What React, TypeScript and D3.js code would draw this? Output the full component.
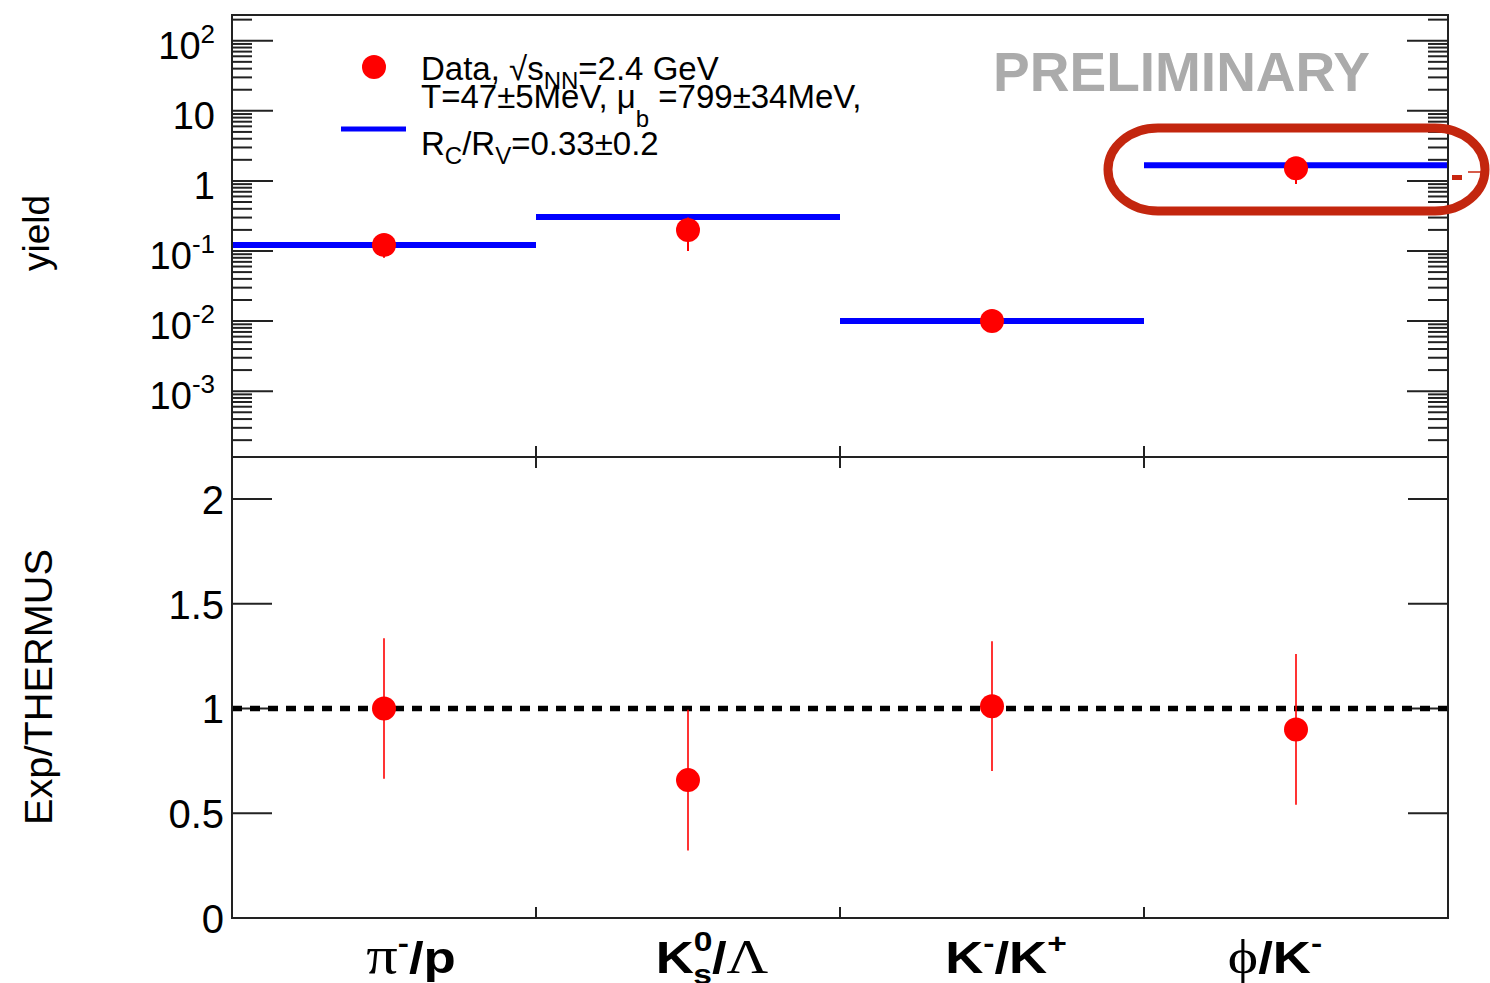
import React from "react";
import * as d3 from "d3";

// Particle ratios compared with the THERMUS statistical-model fit
const categories = ["pi-/p", "K0s/Lambda", "K-/K+", "phi/K-"];
const thermusYield = [0.122, 0.306, 0.01, 1.67];
const dataYield = [0.122, 0.2, 0.01, 1.52];
const dataYieldErr = [0.042, 0.1, 0.002, 0.62];
const ratio = [1.0, 0.658, 1.011, 0.9];
const ratioErr = [0.335, 0.336, 0.31, 0.36];

const yieldDecades = [-4, -3, -2, -1, 0, 1, 2];
const ratioTicks = [0, 0.5, 1, 1.5, 2];

const W = 1490;
const H = 983;
const frame = { left: 232, right: 1448, top: 15, mid: 457, bottom: 918 };

const SANS = "'Liberation Sans', Arial, Helvetica, sans-serif";
const SERIF = "'Liberation Serif', 'DejaVu Serif', serif";
const RED = "#ff0000";
const BLUE = "#0000ff";
const AXIS = "#222";

const x = d3
  .scaleBand<string>()
  .domain(categories)
  .range([frame.left, frame.right])
  .paddingInner(0)
  .paddingOuter(0);

const yTop = d3.scaleLog().domain([1.15e-4, 233]).range([frame.mid, frame.top]);
const yBot = d3.scaleLinear().domain([0, 2.2]).range([frame.bottom, frame.mid]);

// label offsets from band centre for the x labels
const labelShift = [27, 24, 14, -21];

function decadeLabel(e: number) {
  if (e === 0) return [{ t: "1", sup: false }];
  if (e === 1) return [{ t: "10", sup: false }];
  return [
    { t: "10", sup: false },
    { t: String(e), sup: true },
  ];
}

function CategoryLabel({ i }: { i: number }) {
  const c = categories[i];
  const bw = x.bandwidth();
  const cx = (x(c) as number) + bw / 2 + labelShift[i];
  const base = 973;
  const big = 44;
  const small = 28;
  const bold = { fontFamily: SANS, fontWeight: 700 as const };
  let content: React.ReactNode = null;
  if (i === 0) {
    content = (
      <>
        <tspan fontFamily={SERIF} fontSize={52}>π</tspan>
        <tspan {...bold} fontSize={small} dy={-20}>-</tspan>
        <tspan {...bold} fontSize={big} dy={20}>/p</tspan>
      </>
    );
  } else if (i === 1) {
    content = (
      <>
        <tspan {...bold} fontSize={big}>K</tspan>
        <tspan {...bold} fontSize={small} dy={-22}>0</tspan>
        <tspan {...bold} fontSize={small} dx={-16} dy={33}>s</tspan>
        <tspan {...bold} fontSize={big} dy={-11}>/</tspan>
        <tspan fontFamily={SERIF} fontSize={48}>Λ</tspan>
      </>
    );
  } else if (i === 2) {
    content = (
      <>
        <tspan {...bold} fontSize={big}>K</tspan>
        <tspan {...bold} fontSize={small} dy={-20}>-</tspan>
        <tspan {...bold} fontSize={big} dy={20}>/K</tspan>
        <tspan {...bold} fontSize={small} dy={-20}>+</tspan>
      </>
    );
  } else {
    content = (
      <>
        <tspan fontFamily={SERIF} fontSize={48}>ϕ</tspan>
        <tspan {...bold} fontSize={big}>/K</tspan>
        <tspan {...bold} fontSize={small} dy={-20}>-</tspan>
      </>
    );
  }
  return (
    <g transform={`translate(${cx},${base}) scale(1.2,1)`}>
      <text textAnchor="middle" fill="#000">
        {content}
      </text>
    </g>
  );
}

export default function App() {
  const bw = x.bandwidth();
  const centers = categories.map((c) => (x(c) as number) + bw / 2);
  const edges = categories.slice(1).map((c) => x(c) as number);

  // log ticks: majors at decades, minors at 2..9
  const [lo, hi] = yTop.domain();
  const majors: number[] = [];
  const minors: number[] = [];
  yieldDecades.forEach((e) => {
    const d = Math.pow(10, e);
    if (d >= lo && d <= hi) majors.push(d);
    for (let k = 2; k <= 9; k++) {
      const v = k * d;
      if (v >= lo && v <= hi) minors.push(v);
    }
  });

  return (
    <svg
      width={W}
      height={H}
      style={{ position: "absolute", left: 0, top: 0, display: "block", background: "#fff" }}
    >
      <rect x={0} y={0} width={W} height={H} fill="#fff" />

      {/* ---------- top panel: yields ---------- */}
      {majors.map((v) => (
        <g key={"M" + v}>
          <line x1={frame.left} x2={frame.left + 41} y1={yTop(v)} y2={yTop(v)} stroke={AXIS} strokeWidth={2} />
          <line x1={frame.right} x2={frame.right - 41} y1={yTop(v)} y2={yTop(v)} stroke={AXIS} strokeWidth={2} />
        </g>
      ))}
      {minors.map((v) => (
        <g key={"m" + v}>
          <line x1={frame.left} x2={frame.left + 20} y1={yTop(v)} y2={yTop(v)} stroke={AXIS} strokeWidth={2} />
          <line x1={frame.right} x2={frame.right - 20} y1={yTop(v)} y2={yTop(v)} stroke={AXIS} strokeWidth={2} />
        </g>
      ))}
      {yieldDecades
        .filter((e) => Math.pow(10, e) >= lo && Math.pow(10, e) <= hi)
        .map((e) => (
          <text
            key={"l" + e}
            x={215}
            y={yTop(Math.pow(10, e)) + 18}
            textAnchor="end"
            fontFamily={SANS}
            fontSize={38}
            fill="#000"
          >
            {decadeLabel(e).map((p, j) =>
              p.sup ? (
                <tspan key={j} fontSize={26} dy={-16}>
                  {p.t}
                </tspan>
              ) : (
                <tspan key={j}>{p.t}</tspan>
              )
            )}
          </text>
        ))}

      {/* THERMUS model yields */}
      {categories.map((c, i) => (
        <line
          key={"th" + c}
          x1={x(c) as number}
          x2={(x(c) as number) + bw}
          y1={yTop(thermusYield[i])}
          y2={yTop(thermusYield[i])}
          stroke={BLUE}
          strokeWidth={6}
        />
      ))}

      {/* measured yields */}
      {categories.map((c, i) => (
        <g key={"dy" + c}>
          <line
            x1={centers[i]}
            x2={centers[i]}
            y1={yTop(dataYield[i] + dataYieldErr[i])}
            y2={yTop(dataYield[i] - dataYieldErr[i])}
            stroke={RED}
            strokeWidth={2}
          />
          <circle cx={centers[i]} cy={yTop(dataYield[i])} r={12} fill={RED} />
        </g>
      ))}

      {/* legend */}
      <circle cx={374} cy={67} r={12} fill={RED} />
      <line x1={341} x2={406} y1={129} y2={129} stroke={BLUE} strokeWidth={5} />
      <g fontFamily={SANS} fontSize={33} fill="#000">
        <text x={421} y={80}>
          Data, √s
          <tspan fontSize={24} dy={9}>NN</tspan>
          <tspan dy={-9}>=2.4 GeV</tspan>
        </text>
        <text x={421} y={108}>
          T=47±5MeV, μ
          <tspan fontSize={24} dy={19}>b</tspan>
          <tspan dy={-19}> =799±34MeV,</tspan>
        </text>
        <text x={421} y={155}>
          R
          <tspan fontSize={24} dy={9}>C</tspan>
          <tspan dy={-9}>/R</tspan>
          <tspan fontSize={24} dy={9}>V</tspan>
          <tspan dy={-9}>=0.33±0.2</tspan>
        </text>
      </g>

      <text
        x={993}
        y={91}
        fontFamily={SANS}
        fontWeight={700}
        fontSize={56}
        fill="#ababab"
        textLength={377}
        lengthAdjust="spacingAndGlyphs"
      >
        PRELIMINARY
      </text>

      <text
        transform="translate(49,233) rotate(-90)"
        textAnchor="middle"
        fontFamily={SANS}
        fontSize={37}
        fill="#000"
      >
        yield
      </text>

      {/* ---------- bottom panel: Exp/THERMUS ---------- */}
      {ratioTicks.map((v) => (
        <g key={"rt" + v}>
          <line x1={frame.left} x2={frame.left + 40} y1={yBot(v)} y2={yBot(v)} stroke={AXIS} strokeWidth={2} />
          <line x1={frame.right} x2={frame.right - 40} y1={yBot(v)} y2={yBot(v)} stroke={AXIS} strokeWidth={2} />
          <text
            x={224}
            y={yBot(v) + 15}
            textAnchor="end"
            fontFamily={SANS}
            fontSize={40}
            fill="#000"
          >
            {String(v)}
          </text>
        </g>
      ))}

      <line
        x1={frame.left}
        x2={frame.right}
        y1={yBot(1)}
        y2={yBot(1)}
        stroke="#000"
        strokeWidth={5.5}
        strokeDasharray="10,8"
      />

      {categories.map((c, i) => (
        <g key={"r" + c}>
          <line
            x1={centers[i]}
            x2={centers[i]}
            y1={yBot(ratio[i] + ratioErr[i])}
            y2={yBot(ratio[i] - ratioErr[i])}
            stroke={RED}
            strokeWidth={1.6}
          />
          <circle cx={centers[i]} cy={yBot(ratio[i])} r={12} fill={RED} />
        </g>
      ))}

      <text
        transform="translate(52,687) rotate(-90)"
        textAnchor="middle"
        fontFamily={SANS}
        fontSize={39}
        fill="#000"
        textLength={276}
        lengthAdjust="spacingAndGlyphs"
      >
        Exp/THERMUS
      </text>

      {/* bin-edge ticks */}
      {edges.map((ex) => (
        <g key={"e" + ex}>
          <line x1={ex} x2={ex} y1={frame.mid} y2={frame.mid - 11} stroke={AXIS} strokeWidth={2} />
          <line x1={ex} x2={ex} y1={frame.mid} y2={frame.mid + 11} stroke={AXIS} strokeWidth={2} />
          <line x1={ex} x2={ex} y1={frame.bottom} y2={frame.bottom - 11} stroke={AXIS} strokeWidth={2} />
        </g>
      ))}

      {/* frames */}
      <rect
        x={frame.left}
        y={frame.top}
        width={frame.right - frame.left}
        height={frame.mid - frame.top}
        fill="none"
        stroke={AXIS}
        strokeWidth={2}
      />
      <rect
        x={frame.left}
        y={frame.mid}
        width={frame.right - frame.left}
        height={frame.bottom - frame.mid}
        fill="none"
        stroke={AXIS}
        strokeWidth={2}
      />

      {categories.map((c, i) => (
        <CategoryLabel key={"cl" + c} i={i} />
      ))}

      {/* hand-drawn highlight around the last bin */}
      <rect x={1452} y={175} width={10} height={5} fill="#c8260f" />
      <line x1={1468} x2={1482} y1={172} y2={172} stroke="#c8260f" strokeWidth={1.5} />
      <rect
        x={1108}
        y={128}
        width={377}
        height={83}
        rx={50}
        ry={42}
        fill="none"
        stroke="#c3260e"
        strokeWidth={9}
      />
    </svg>
  );
}
